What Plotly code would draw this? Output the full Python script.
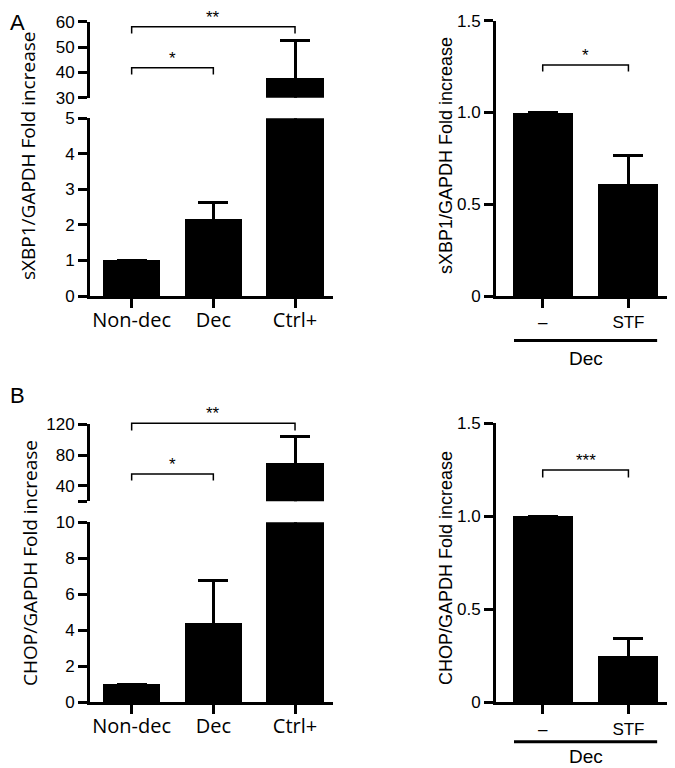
import plotly.graph_objects as go

# page body has an 8px margin: figure drawn at (8, 8)
OFF = 8
W, H = 675 - OFF, 768 - OFF

# ---------------- data ----------------
catsA = ["Non-dec", "Dec", "Ctrl+"]
sxbp1_vals = [1.0, 2.17, 38.0]
sxbp1_err = [None, 0.47, 14.4]

chop_vals = [1.0, 4.4, 70.0]
chop_err = [None, 2.35, 34.0]

catsB = ["–", "STF"]
sxbp1_stf_vals = [1.0, 0.61]
sxbp1_stf_err = [None, 0.155]
chop_stf_vals = [1.0, 0.245]
chop_stf_err = [None, 0.10]

ytitle_sx = "sXBP1/GAPDH Fold increase"
ytitle_ch = "CHOP/GAPDH Fold increase"

# ---------------- helpers (window pixels -> paper) ----------------
def px(x):
    return (x - OFF) / W

def py(y):
    return 1 - (y - OFF) / H

ARIAL = "Liberation Sans, Arial, sans-serif"
MYRIAD = "Open Sans, sans-serif"

fig = go.Figure()

def add_bars(vals, err, xa, ya):
    fig.add_trace(go.Bar(
        x=list(range(len(vals))), y=vals, width=0.70,
        marker=dict(color="black", line=dict(width=0)),
        error_y=dict(type="data", array=err, arrayminus=vals, symmetric=False,
                     color="black", thickness=3, width=15),
        xaxis=xa, yaxis=ya, showlegend=False, hoverinfo="skip"))

# Panel A left: lower (y) and upper (y2) share x
add_bars(sxbp1_vals, sxbp1_err, "x", "y")
add_bars(sxbp1_vals, sxbp1_err, "x", "y2")
# Panel A right
add_bars(sxbp1_stf_vals, sxbp1_stf_err, "x2", "y3")
# Panel B left
add_bars(chop_vals, chop_err, "x3", "y4")
add_bars(chop_vals, chop_err, "x3", "y5")
# Panel B right
add_bars(chop_stf_vals, chop_stf_err, "x4", "y6")

axcommon = dict(showline=True, linewidth=3, linecolor="black", ticks="outside",
                ticklen=9, tickwidth=3, tickcolor="black", showgrid=False,
                zeroline=False, fixedrange=True, automargin=False)

def xax(dom, rng, anchor, labels, font, size, standoff=0):
    return dict(domain=[px(dom[0]), px(dom[1])], range=rng, anchor=anchor,
                tickvals=list(range(len(labels))), ticktext=labels,
                ticklabelstandoff=standoff,
                tickfont=dict(family=font, size=size, color="black"), **axcommon)

def yax(dom, rng, anchor, tickvals, ticktext):
    return dict(domain=[py(dom[1]), py(dom[0])], range=rng, anchor=anchor,
                tickvals=tickvals, ticktext=ticktext,
                tickfont=dict(family=ARIAL, size=17, color="black"), **axcommon)

XA = [-0.51, 2.465]
XB = [-0.545, 1.52]

fig.update_layout(
    template="none",
    width=W, height=H, autosize=False,
    margin=dict(l=0, r=0, t=0, b=0, pad=0),
    paper_bgcolor="white", plot_bgcolor="rgba(0,0,0,0)",
    bargap=0,
    xaxis=xax((90, 333), XA, "y", catsA, MYRIAD, 20, -5),
    yaxis=yax((118.3, 296), [0, 5], "x", [0, 1, 2, 3, 4, 5], ["0", "1", "2", "3", "4", "5"]),
    yaxis2=yax((21.7, 97.7), [30, 60], "x", [30, 40, 50, 60], ["30", "40", "50", "60"]),
    xaxis2=xax((496, 673), XB, "y3", catsB, ARIAL, 17),
    yaxis3=yax((20.7, 296), [0, 1.5], "x2", [0, 0.5, 1.0, 1.5], ["0", "0.5", "1.0", "1.5"]),
    xaxis3=xax((90, 333), XA, "y4", catsA, MYRIAD, 20, -5),
    yaxis4=yax((522.3, 702.3), [0, 10], "x3", [0, 2, 4, 6, 8, 10], ["0", "2", "4", "6", "8", "10"]),
    yaxis5=yax((424.3, 501.3), [20, 120], "x3", [20, 40, 80, 120], ["", "40", "80", "120"]),
    xaxis4=xax((496, 673), XB, "y6", catsB, ARIAL, 17),
    yaxis6=yax((423.3, 702.3), [0, 1.5], "x4", [0, 0.5, 1.0, 1.5], ["0", "0.5", "1.0", "1.5"]),
)

# significance brackets: (xref, x0, x1, top pixel, end pixel, label)
brackets = [
    ("x", 0, 2, 26.7, 33.5, "**"),
    ("x", 0, 1, 67.7, 74.5, "*"),
    ("x2", 0, 1, 65.0, 71.5, "*"),
    ("x3", 0, 2, 423.3, 430.5, "**"),
    ("x3", 0, 1, 474.0, 480.5, "*"),
    ("x4", 0, 1, 470.0, 477.5, "***"),
]
shapes = []
annotations = []
for xr, a, b, yt, ye, lab in brackets:
    shapes.append(dict(type="path", xref=xr, yref="paper",
                       path=f"M {a},{py(ye)} L {a},{py(yt)} L {b},{py(yt)} L {b},{py(ye)}",
                       line=dict(color="black", width=1.5), layer="above"))
    annotations.append(dict(xref=xr, yref="paper", x=(a + b) / 2, y=py(yt), text=lab,
                            showarrow=False, xanchor="center", yanchor="bottom", yshift=-2,
                            font=dict(family=ARIAL, size=17, color="black")))

# "Dec" group underline for right panels: (xref, line pixel, text pixel, anchor)
groups = [("x2", 340.5, 358.5, "middle"), ("x4", 741.7, 768.0, "bottom")]
for xr, yl, yt, anc in groups:
    shapes.append(dict(type="line", xref=xr, yref="paper", x0=-0.335, x1=1.335,
                       y0=py(yl), y1=py(yl), line=dict(color="black", width=3)))
    annotations.append(dict(xref=xr, yref="paper", x=0.5, y=py(yt), text="Dec",
                            showarrow=False, xanchor="center", yanchor=anc,
                            borderpad=0,
                            font=dict(family=ARIAL, size=19, color="black")))

# y-axis titles
titles = [(28, 156, ytitle_sx, MYRIAD, 19), (446, 156, ytitle_sx, ARIAL, 18),
          (30, 563, ytitle_ch, MYRIAD, 19), (446, 568, ytitle_ch, ARIAL, 18)]
for x, y, t, f, s in titles:
    annotations.append(dict(xref="paper", yref="paper", x=px(x), y=py(y), text=t,
                            textangle=-90, showarrow=False, xanchor="center", yanchor="middle",
                            font=dict(family=f, size=s, color="black")))

# panel letters
for lab, x, y, anc in [("A", 17, 8, "top"), ("B", 17, 395, "middle")]:
    annotations.append(dict(xref="paper", yref="paper", x=px(x), y=py(y), text=lab,
                            showarrow=False, xanchor="center", yanchor=anc,
                            font=dict(family=ARIAL, size=22, color="black")))

fig.update_layout(shapes=shapes, annotations=annotations)
fig.write_html("out.html")
